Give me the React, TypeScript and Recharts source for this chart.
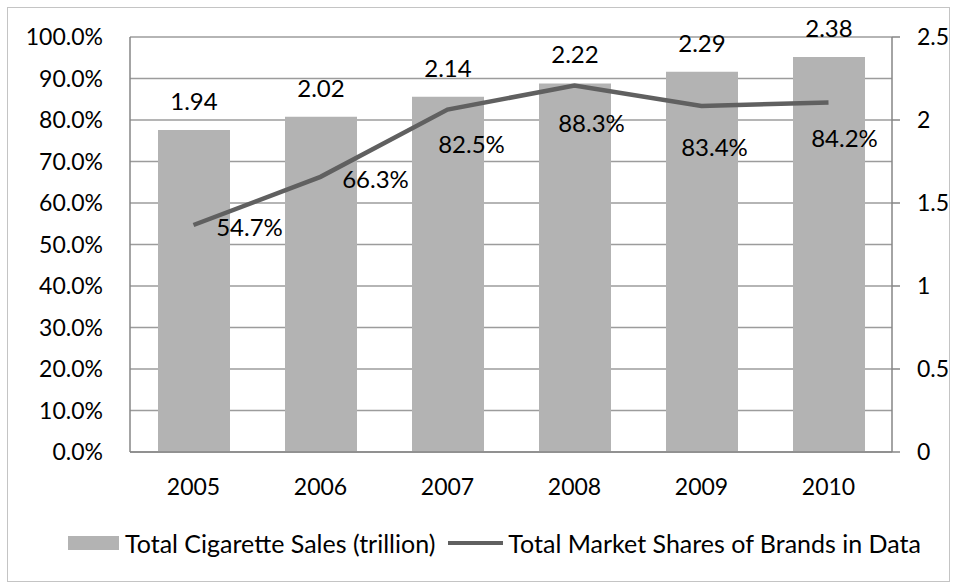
import React from "react";
import {
  Bar,
  CartesianGrid,
  ComposedChart,
  LabelList,
  Legend,
  Line,
  XAxis,
  YAxis,
} from "recharts";

const years = ["2005", "2006", "2007", "2008", "2009", "2010"];
const cigaretteSales = [1.94, 2.02, 2.14, 2.22, 2.29, 2.38];
const marketShares = [0.547, 0.663, 0.825, 0.883, 0.834, 0.842];
const shareTicks = [0, 0.1, 0.2, 0.3, 0.4, 0.5, 0.6, 0.7, 0.8, 0.9, 1];
const salesTicks = [0, 0.5, 1, 1.5, 2, 2.5];

// the share labels were dragged around by hand in the original sheet
const shareLabelNudge = [
  [56, 2],
  [55, 2],
  [24, 34],
  [17, 37],
  [13, 41],
  [16, 35],
];

const FONT = "Lato, sans-serif";
const FONT_SIZE = 23;
const LABEL_SIZE = 24;
const LEGEND_SIZE = 25;
const BAR_FILL = "#b3b3b3";
const LINE_STROKE = "#606060";
const AXIS_STROKE = "#868686";
const GRID_STROKE = "#9c9c9c";

const data = years.map((year, i) => ({
  year,
  sales: cigaretteSales[i],
  share: marketShares[i],
}));

const tickStyle = { fill: "#000", fontSize: FONT_SIZE, fontFamily: FONT };

const ShareLabel = (props: any) => {
  const { x, y, value, index } = props;
  const [dx, dy] = shareLabelNudge[index] || [0, 0];
  return (
    <text
      x={x + dx}
      y={y + dy}
      textAnchor="middle"
      dominantBaseline="central"
      fill="#000"
      fontSize={LABEL_SIZE}
      fontFamily={FONT}
    >
      {(value * 100).toFixed(1)}%
    </text>
  );
};

const renderLegend = () => (
  <div
    style={{
      display: "flex",
      alignItems: "center",
      fontFamily: FONT,
      fontSize: LEGEND_SIZE,
      color: "#000",
      whiteSpace: "nowrap",
    }}
  >
    <span style={{ width: 51, height: 14, background: BAR_FILL, marginRight: 6 }} />
    <span>Total Cigarette Sales (trillion)</span>
    <span
      style={{
        width: 55,
        height: 4,
        background: LINE_STROKE,
        marginLeft: 13,
        marginRight: 5,
      }}
    />
    <span>Total Market Shares of Brands in Data</span>
  </div>
);

export default function App() {
  return (
    <div style={{ position: "absolute", left: 0, top: 0, width: 957, height: 583 }}>
      <ComposedChart
        width={957}
        height={583}
        data={data}
        margin={{ top: 37, right: 0, bottom: 71, left: 0 }}
        barCategoryGap="21.7%"
      >
        <CartesianGrid
          yAxisId="share"
          vertical={false}
          stroke={GRID_STROKE}
          strokeWidth={1.5}
        />
        <XAxis
          dataKey="year"
          height={60}
          tickLine={false}
          tickSize={0}
          tickMargin={27}
          axisLine={{ stroke: AXIS_STROKE, strokeWidth: 1.5 }}
          tick={tickStyle}
        />
        <YAxis
          yAxisId="share"
          orientation="left"
          width={130}
          domain={[0, 1]}
          ticks={shareTicks}
          interval={0}
          tickFormatter={(v: number) => `${(v * 100).toFixed(1)}%`}
          tickLine={false}
          tickSize={0}
          tickMargin={27}
          axisLine={{ stroke: AXIS_STROKE, strokeWidth: 1.5 }}
          tick={tickStyle}
        />
        <YAxis
          yAxisId="sales"
          orientation="right"
          width={65}
          domain={[0, 2.5]}
          ticks={salesTicks}
          interval={0}
          tickFormatter={(v: number) => String(v)}
          tickSize={8}
          tickMargin={17}
          tickLine={{ stroke: AXIS_STROKE, strokeWidth: 1.5 }}
          axisLine={{ stroke: AXIS_STROKE, strokeWidth: 1.5 }}
          tick={{ ...tickStyle, textAnchor: "start" }}
        />
        <Bar
          yAxisId="sales"
          dataKey="sales"
          name="Total Cigarette Sales (trillion)"
          fill={BAR_FILL}
          barSize={72}
          isAnimationActive={false}
        >
          <LabelList
            dataKey="sales"
            position="top"
            offset={20}
            fill="#000"
            fontSize={LABEL_SIZE}
            fontFamily={FONT}
            formatter={(v: number) => v.toFixed(2)}
          />
        </Bar>
        <Line
          yAxisId="share"
          dataKey="share"
          name="Total Market Shares of Brands in Data"
          type="linear"
          stroke={LINE_STROKE}
          strokeWidth={4.5}
          dot={false}
          activeDot={false}
          isAnimationActive={false}
        >
          <LabelList dataKey="share" content={ShareLabel} />
        </Line>
        <Legend
          layout="horizontal"
          verticalAlign="middle"
          align="center"
          content={renderLegend}
          wrapperStyle={{ left: 68, top: 528, width: "auto" }}
        />
      </ComposedChart>
      <div
        style={{
          position: "absolute",
          left: 7,
          top: 7,
          width: 943,
          height: 575,
          boxSizing: "border-box",
          border: "1.5px solid #c4c4c4",
          pointerEvents: "none",
        }}
      />
    </div>
  );
}
